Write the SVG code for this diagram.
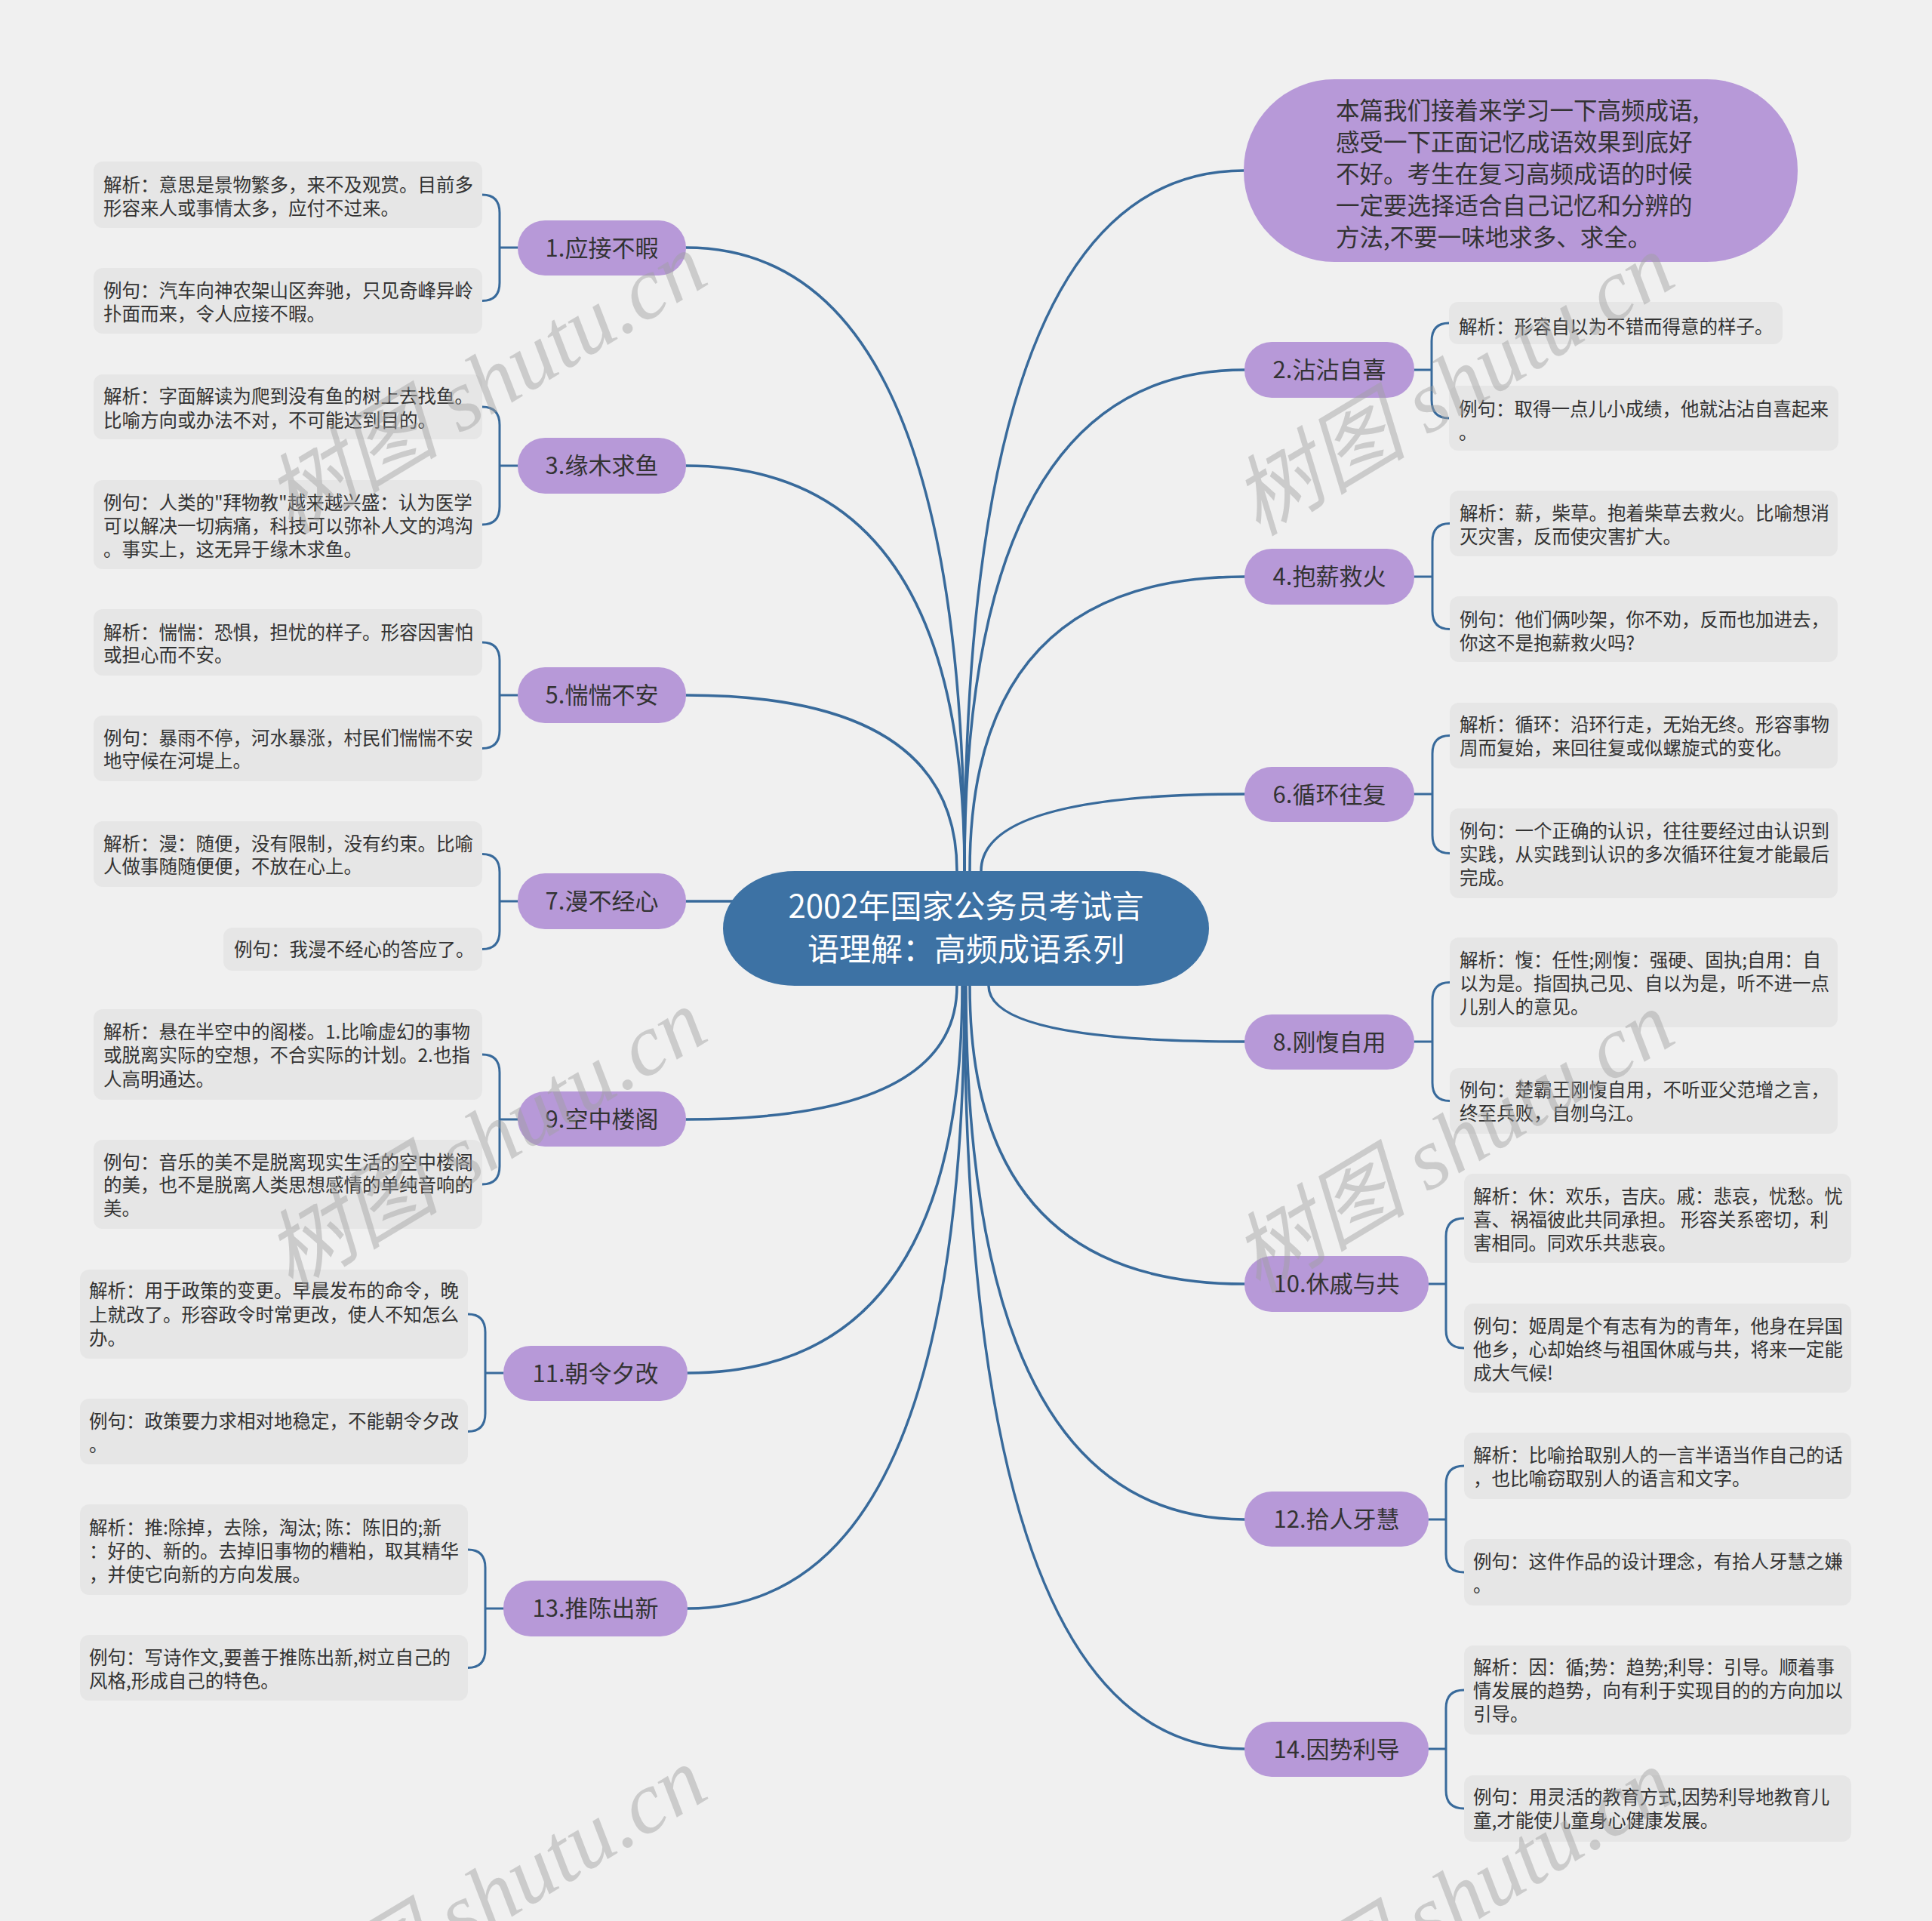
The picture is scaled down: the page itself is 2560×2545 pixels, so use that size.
<svg xmlns="http://www.w3.org/2000/svg" width="2560" height="2545" viewBox="0 0 2560 2545">
<style>
.bg{fill:#f0f0f0}
.conn{fill:none;stroke:#386a9b;stroke-width:3.5;stroke-linecap:round}
.br{fill:none;stroke:#386a9b;stroke-width:3;stroke-linecap:round}
.node{fill:#b799d8}
.nt{font-family:"Noto Sans CJK SC","Liberation Sans",sans-serif;font-size:31px;fill:#333;text-anchor:middle}
.box{fill:#e6e6e6}
.bt{font-family:"Noto Sans CJK SC","Liberation Sans",sans-serif;font-size:24.5px;fill:#333;white-space:pre}
.ct{font-family:"Noto Sans CJK SC","Liberation Sans",sans-serif;font-size:42px;fill:#fff;text-anchor:middle}
.tt{font-family:"Noto Sans CJK SC","Liberation Sans",sans-serif;font-size:31.5px;fill:#333}
.wm{font-family:"Liberation Serif","Noto Sans CJK SC",serif;font-style:italic;font-size:116px;fill:#a0a0a0;opacity:0.45;text-anchor:middle}
</style>
<rect class="bg" x="0" y="0" width="2560" height="2545"/>

<g id="connectors">
<path class="conn" d="M1278 1154 Q1278 226 1648 226"/>
<path class="conn" d="M1278 1154 Q1278 490 1649 490"/>
<path class="conn" d="M1285 1154 Q1285 764 1649 764"/>
<path class="conn" d="M1300 1154 Q1300 1052 1649 1052"/>
<path class="conn" d="M1310 1306 Q1310 1380 1649 1380"/>
<path class="conn" d="M1285 1306 Q1285 1701 1649 1701"/>
<path class="conn" d="M1280 1306 Q1280 2013 1649 2013"/>
<path class="conn" d="M1278 1306 Q1278 2317 1649 2317"/>
<path class="conn" d="M1278 1154 Q1278 328 909 328"/>
<path class="conn" d="M1278 1154 Q1278 617 909 617"/>
<path class="conn" d="M1268 1154 Q1268 921 909 921"/>
<path class="conn" d="M909 1194 L1000 1194"/>
<path class="conn" d="M1268 1306 Q1268 1483 909 1483"/>
<path class="conn" d="M1275 1306 Q1275 1819 911 1819"/>
<path class="conn" d="M1278 1306 Q1278 2131 911 2131"/>
<path class="br" d="M639 258 Q662 258 662 282 L662 374.5 Q662 398.5 639 398.5 M662 328 H686"/>
<path class="br" d="M639 539 Q662 539 662 563 L662 671 Q662 695 639 695 M662 617 H686"/>
<path class="br" d="M639 851 Q662 851 662 875 L662 967.5 Q662 991.5 639 991.5 M662 921 H686"/>
<path class="br" d="M639 1131.5 Q662 1131.5 662 1155.5 L662 1233.5 Q662 1257.5 639 1257.5 M662 1194 H686"/>
<path class="br" d="M639 1397 Q662 1397 662 1421 L662 1545 Q662 1569 639 1569 M662 1483 H686"/>
<path class="br" d="M620 1741 Q643 1741 643 1765 L643 1872.5 Q643 1896.5 620 1896.5 M643 1819 H667"/>
<path class="br" d="M620 2053 Q643 2053 643 2077 L643 2185.5 Q643 2209.5 620 2209.5 M643 2131 H667"/>
<path class="br" d="M1920 428 Q1897 428 1897 452 L1897 530 Q1897 554 1920 554 M1897 490 H1873"/>
<path class="br" d="M1921 693.5 Q1898 693.5 1898 717.5 L1898 809.5 Q1898 833.5 1921 833.5 M1898 764 H1874"/>
<path class="br" d="M1921 974.5 Q1898 974.5 1898 998.5 L1898 1106.5 Q1898 1130.5 1921 1130.5 M1898 1052 H1874"/>
<path class="br" d="M1921 1301.5 Q1898 1301.5 1898 1325.5 L1898 1434.5 Q1898 1458.5 1921 1458.5 M1898 1380 H1874"/>
<path class="br" d="M1940 1614 Q1916 1614 1916 1638 L1916 1762 Q1916 1786 1940 1786 M1916 1701 H1893"/>
<path class="br" d="M1940 1942 Q1916 1942 1916 1966 L1916 2059 Q1916 2083 1940 2083 M1916 2013 H1893"/>
<path class="br" d="M1940 2239 Q1916 2239 1916 2263 L1916 2372 Q1916 2396 1940 2396 M1916 2317 H1893"/>
</g>

<g id="center">
<rect x="958" y="1154" width="644" height="152" rx="95" ry="76" fill="#3d72a4"/>
<text class="ct" x="1280" y="1216">2002年国家公务员考试言</text>
<text class="ct" x="1280" y="1273">语理解：高频成语系列</text>
</g>

<g id="intro">
<rect x="1648" y="105" width="734" height="242" rx="120" class="node"/>
<text class="tt" x="1770" y="158">本篇我们接着来学习一下高频成语,</text>
<text class="tt" x="1770" y="200">感受一下正面记忆成语效果到底好</text>
<text class="tt" x="1770" y="242">不好。考生在复习高频成语的时候</text>
<text class="tt" x="1770" y="284">一定要选择适合自己记忆和分辨的</text>
<text class="tt" x="1770" y="326">方法,不要一味地求多、求全。</text>
</g>

<g id="n1">
<rect class="node" x="686" y="292" width="223" height="73" rx="36"/>
<text class="nt" x="797.5" y="339.5">1.应接不暇</text>
<rect class="box" x="124" y="214" width="515" height="88" rx="12"/>
<text class="bt" x="137" y="254">解析：意思是景物繁多，来不及观赏。目前多</text>
<text class="bt" x="137" y="285">形容来人或事情太多，应付不过来。</text>
<rect class="box" x="124" y="355" width="515" height="87" rx="12"/>
<text class="bt" x="137" y="394">例句：汽车向神农架山区奔驰，只见奇峰异岭</text>
<text class="bt" x="137" y="425">扑面而来，令人应接不暇。</text>
</g>

<g id="n3">
<rect class="node" x="686" y="580" width="223" height="74" rx="36"/>
<text class="nt" x="797.5" y="628">3.缘木求鱼</text>
<rect class="box" x="124" y="496" width="515" height="86" rx="12"/>
<text class="bt" x="137" y="534">解析：字面解读为爬到没有鱼的树上去找鱼。</text>
<text class="bt" x="137" y="566">比喻方向或办法不对，不可能达到目的。</text>
<rect class="box" x="124" y="636" width="515" height="118" rx="12"/>
<text class="bt" x="137" y="675">例句：人类的"拜物教"越来越兴盛：认为医学</text>
<text class="bt" x="137" y="706">可以解决一切病痛，科技可以弥补人文的鸿沟</text>
<text class="bt" x="137" y="737">。事实上，这无异于缘木求鱼。</text>
</g>

<g id="n5">
<rect class="node" x="686" y="884" width="223" height="74" rx="36"/>
<text class="nt" x="797.5" y="932">5.惴惴不安</text>
<rect class="box" x="124" y="807" width="515" height="88" rx="12"/>
<text class="bt" x="137" y="847">解析：惴惴：恐惧，担忧的样子。形容因害怕</text>
<text class="bt" x="137" y="877">或担心而不安。</text>
<rect class="box" x="124" y="948" width="515" height="87" rx="12"/>
<text class="bt" x="137" y="987">例句：暴雨不停，河水暴涨，村民们惴惴不安</text>
<text class="bt" x="137" y="1017">地守候在河堤上。</text>
</g>

<g id="n7">
<rect class="node" x="686" y="1157" width="223" height="74" rx="36"/>
<text class="nt" x="797.5" y="1205">7.漫不经心</text>
<rect class="box" x="124" y="1088" width="515" height="87" rx="12"/>
<text class="bt" x="137" y="1127">解析：漫：随便，没有限制，没有约束。比喻</text>
<text class="bt" x="137" y="1157">人做事随随便便，不放在心上。</text>
<rect class="box" x="296" y="1229" width="343" height="57" rx="12"/>
<text class="bt" x="310" y="1267">例句：我漫不经心的答应了。</text>
</g>

<g id="n9">
<rect class="node" x="686" y="1446" width="223" height="73" rx="36"/>
<text class="nt" x="797.5" y="1493.5">9.空中楼阁</text>
<rect class="box" x="124" y="1337" width="515" height="120" rx="12"/>
<text class="bt" x="137" y="1376">解析：悬在半空中的阁楼。1.比喻虚幻的事物</text>
<text class="bt" x="137" y="1407">或脱离实际的空想，不合实际的计划。2.也指</text>
<text class="bt" x="137" y="1439">人高明通达。</text>
<rect class="box" x="124" y="1510" width="515" height="118" rx="12"/>
<text class="bt" x="137" y="1549">例句：音乐的美不是脱离现实生活的空中楼阁</text>
<text class="bt" x="137" y="1579">的美，也不是脱离人类思想感情的单纯音响的</text>
<text class="bt" x="137" y="1610">美。</text>
</g>

<g id="n11">
<rect class="node" x="667" y="1783" width="244" height="73" rx="36"/>
<text class="nt" x="789" y="1830.5">11.朝令夕改</text>
<rect class="box" x="106" y="1682" width="514" height="118" rx="12"/>
<text class="bt" x="118" y="1719">解析：用于政策的变更。早晨发布的命令，晚</text>
<text class="bt" x="118" y="1751">上就改了。形容政令时常更改，使人不知怎么</text>
<text class="bt" x="118" y="1782">办。</text>
<rect class="box" x="106" y="1853" width="514" height="87" rx="12"/>
<text class="bt" x="118" y="1892">例句：政策要力求相对地稳定，不能朝令夕改</text>
<text class="bt" x="118" y="1923">。</text>
</g>

<g id="n13">
<rect class="node" x="667" y="2094" width="244" height="74" rx="36"/>
<text class="nt" x="789" y="2142">13.推陈出新</text>
<rect class="box" x="106" y="1993" width="514" height="120" rx="12"/>
<text class="bt" x="118" y="2033">解析：推:除掉，去除，淘汰; 陈：陈旧的;新</text>
<text class="bt" x="118" y="2064">：好的、新的。去掉旧事物的糟粕，取其精华</text>
<text class="bt" x="118" y="2095">，并使它向新的方向发展。</text>
<rect class="box" x="106" y="2166" width="514" height="87" rx="12"/>
<text class="bt" x="118" y="2205">例句：写诗作文,要善于推陈出新,树立自己的</text>
<text class="bt" x="118" y="2236">风格,形成自己的特色。</text>
</g>

<g id="n2">
<rect class="node" x="1649" y="453" width="225" height="74" rx="36"/>
<text class="nt" x="1761.5" y="501">2.沾沾自喜</text>
<rect class="box" x="1920" y="400" width="442" height="56" rx="12"/>
<text class="bt" x="1933" y="442">解析：形容自以为不错而得意的样子。</text>
<rect class="box" x="1920" y="511" width="516" height="86" rx="12"/>
<text class="bt" x="1933" y="551">例句：取得一点儿小成绩，他就沾沾自喜起来</text>
<text class="bt" x="1933" y="582">。</text>
</g>

<g id="n4">
<rect class="node" x="1649" y="727" width="225" height="74" rx="36"/>
<text class="nt" x="1761.5" y="775">4.抱薪救火</text>
<rect class="box" x="1921" y="650" width="514" height="87" rx="12"/>
<text class="bt" x="1934" y="689">解析：薪，柴草。抱着柴草去救火。比喻想消</text>
<text class="bt" x="1934" y="720">灭灾害，反而使灾害扩大。</text>
<rect class="box" x="1921" y="790" width="514" height="87" rx="12"/>
<text class="bt" x="1934" y="830">例句：他们俩吵架，你不劝，反而也加进去，</text>
<text class="bt" x="1934" y="861">你这不是抱薪救火吗?</text>
</g>

<g id="n6">
<rect class="node" x="1649" y="1016" width="225" height="73" rx="36"/>
<text class="nt" x="1761.5" y="1063.5">6.循环往复</text>
<rect class="box" x="1921" y="931" width="514" height="87" rx="12"/>
<text class="bt" x="1934" y="969">解析：循环：沿环行走，无始无终。形容事物</text>
<text class="bt" x="1934" y="1000">周而复始，来回往复或似螺旋式的变化。</text>
<rect class="box" x="1921" y="1071" width="514" height="119" rx="12"/>
<text class="bt" x="1934" y="1110">例句：一个正确的认识，往往要经过由认识到</text>
<text class="bt" x="1934" y="1141">实践，从实践到认识的多次循环往复才能最后</text>
<text class="bt" x="1934" y="1172">完成。</text>
</g>

<g id="n8">
<rect class="node" x="1649" y="1344" width="225" height="73" rx="36"/>
<text class="nt" x="1761.5" y="1391.5">8.刚愎自用</text>
<rect class="box" x="1921" y="1242" width="514" height="119" rx="12"/>
<text class="bt" x="1934" y="1281">解析：愎：任性;刚愎：强硬、固执;自用：自</text>
<text class="bt" x="1934" y="1312">以为是。指固执己见、自以为是，听不进一点</text>
<text class="bt" x="1934" y="1343">儿别人的意见。</text>
<rect class="box" x="1921" y="1415" width="514" height="87" rx="12"/>
<text class="bt" x="1934" y="1453">例句：楚霸王刚愎自用，不听亚父范增之言，</text>
<text class="bt" x="1934" y="1484">终至兵败，自刎乌江。</text>
</g>

<g id="n10">
<rect class="node" x="1649" y="1664" width="244" height="74" rx="36"/>
<text class="nt" x="1771" y="1712">10.休戚与共</text>
<rect class="box" x="1940" y="1555" width="513" height="118" rx="12"/>
<text class="bt" x="1952" y="1594">解析：休：欢乐，吉庆。戚：悲哀，忧愁。忧</text>
<text class="bt" x="1952" y="1625">喜、祸福彼此共同承担。 形容关系密切，利</text>
<text class="bt" x="1952" y="1656">害相同。同欢乐共悲哀。</text>
<rect class="box" x="1940" y="1727" width="513" height="118" rx="12"/>
<text class="bt" x="1952" y="1766">例句：姬周是个有志有为的青年，他身在异国</text>
<text class="bt" x="1952" y="1797">他乡，心却始终与祖国休戚与共，将来一定能</text>
<text class="bt" x="1952" y="1828">成大气候!</text>
</g>

<g id="n12">
<rect class="node" x="1649" y="1976" width="244" height="73" rx="36"/>
<text class="nt" x="1771" y="2023.5">12.拾人牙慧</text>
<rect class="box" x="1940" y="1898" width="513" height="88" rx="12"/>
<text class="bt" x="1952" y="1937">解析：比喻拾取别人的一言半语当作自己的话</text>
<text class="bt" x="1952" y="1968">，也比喻窃取别人的语言和文字。</text>
<rect class="box" x="1940" y="2039" width="513" height="88" rx="12"/>
<text class="bt" x="1952" y="2078">例句：这件作品的设计理念，有拾人牙慧之嫌</text>
<text class="bt" x="1952" y="2109">。</text>
</g>

<g id="n14">
<rect class="node" x="1649" y="2281" width="244" height="73" rx="36"/>
<text class="nt" x="1771" y="2328.5">14.因势利导</text>
<rect class="box" x="1940" y="2180" width="513" height="118" rx="12"/>
<text class="bt" x="1952" y="2218">解析：因：循;势：趋势;利导：引导。顺着事</text>
<text class="bt" x="1952" y="2249">情发展的趋势，向有利于实现目的的方向加以</text>
<text class="bt" x="1952" y="2280">引导。</text>
<rect class="box" x="1940" y="2352" width="513" height="88" rx="12"/>
<text class="bt" x="1952" y="2390">例句：用灵活的教育方式,因势利导地教育儿</text>
<text class="bt" x="1952" y="2421">童,才能使儿童身心健康发展。</text>
</g>

<g id="watermarks">
<text class="wm" transform="translate(645,510) rotate(-31)" x="0" y="37">树图 shutu.cn</text>
<text class="wm" transform="translate(1927,512) rotate(-31)" x="0" y="37">树图 shutu.cn</text>
<text class="wm" transform="translate(645,1512) rotate(-31)" x="0" y="37">树图 shutu.cn</text>
<text class="wm" transform="translate(1927,1515) rotate(-31)" x="0" y="37">树图 shutu.cn</text>
<text class="wm" transform="translate(645,2516) rotate(-31)" x="0" y="37">树图 shutu.cn</text>
<text class="wm" transform="translate(1927,2519) rotate(-31)" x="0" y="37">树图 shutu.cn</text>
</g>
</svg>
